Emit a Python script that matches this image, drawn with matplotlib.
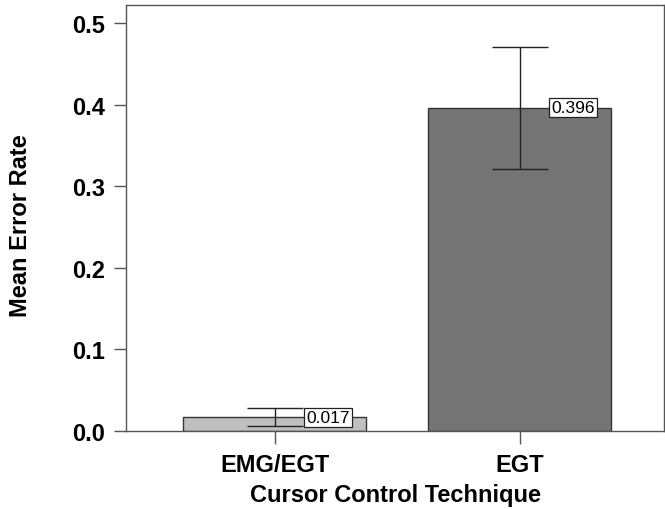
import matplotlib
matplotlib.use("Agg")
import matplotlib.pyplot as plt

categories = ["EMG/EGT", "EGT"]
means = [0.017, 0.396]
errors = [0.011, 0.075]
value_labels = ["0.017", "0.396"]
colors = ["#c0c0c0", "#747474"]

plt.rcParams['font.family'] = ['Liberation Sans', 'DejaVu Sans']

fig = plt.figure(figsize=(6.65, 5.1), dpi=100)
ax = fig.add_axes([126/665, 1-432/510, (664-126)/665, (432-6)/510])

x = list(range(len(categories)))
ax.bar(x, means, width=0.747, color=colors, edgecolor="#333333", linewidth=1.0, zorder=2)
ax.errorbar(x, means, yerr=errors, fmt="none", ecolor="#222222", elinewidth=1.0,
            capsize=20, capthick=1.0, zorder=3)

for xi, m, lab in zip(x, means, value_labels):
    ax.annotate(lab, (xi, m), xytext=(31, 0), textcoords="offset pixels",
                ha="left", va="center", fontsize=12.5, zorder=4,
                bbox=dict(boxstyle="square,pad=0.12", facecolor="white", edgecolor="#222222", linewidth=0.9))

ax.set_xlim(-0.608, 1.588)
ax.set_ylim(0, 0.522)
ax.set_yticks([0.0, 0.1, 0.2, 0.3, 0.4, 0.5])
ax.set_yticklabels(["0.0", "0.1", "0.2", "0.3", "0.4", "0.5"])
ax.set_xticks(x)
ax.set_xticklabels(categories)

for s in ax.spines.values():
    s.set_color("#555555")
    s.set_linewidth(1.0)
ax.tick_params(axis="both", direction="out", length=9, width=1.0, color="#555555",
               labelsize=17)
ax.tick_params(axis="y", pad=6)
ax.tick_params(axis="x", pad=7)
for t in ax.get_xticklabels() + ax.get_yticklabels():
    t.set_fontweight("bold")

ax.set_xlabel("Cursor Control Technique", fontsize=17, fontweight="bold", labelpad=5)
ax.set_ylabel("Mean Error Rate", fontsize=17, fontweight="bold", va="center")
ax.yaxis.set_label_coords(-0.197, 0.484)

fig.savefig("out.png", dpi=100)
